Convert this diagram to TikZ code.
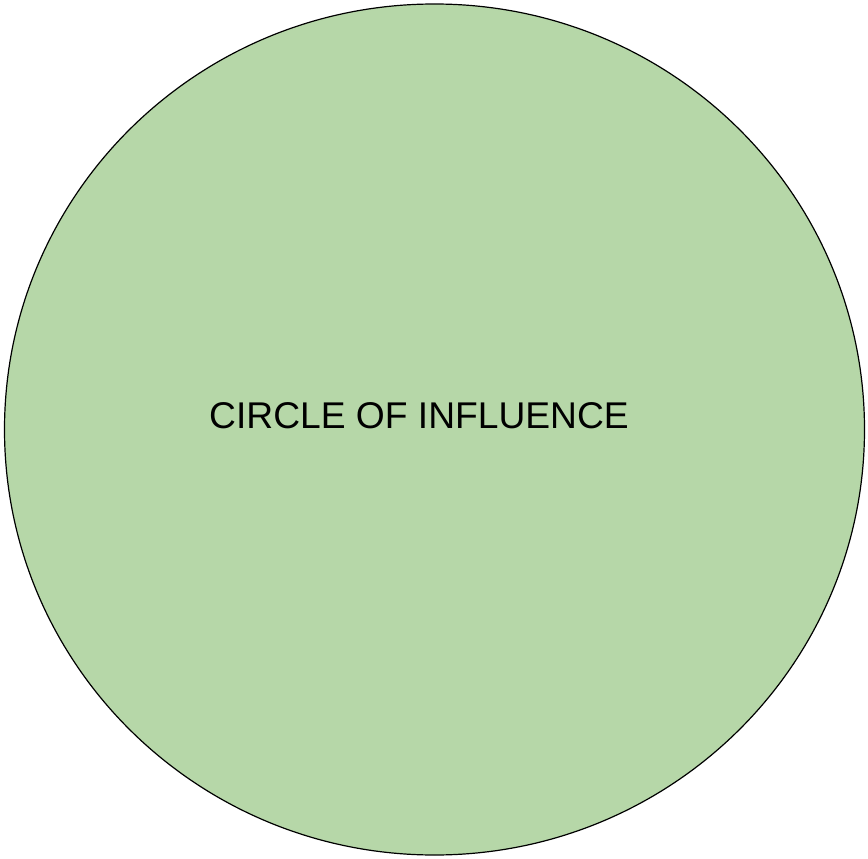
\documentclass[tikz,border=0pt]{standalone}
\usepackage{fontspec}
\setmainfont{Liberation Sans}

\definecolor{influencegreen}{HTML}{B6D7A8}

\begin{document}
\begin{tikzpicture}[x=1pt,y=-1pt]
    % Marco
    \useasboundingbox (0,0) rectangle (868,859);

    % Circulo
    \draw[fill=influencegreen, line width=1.2pt] (434.5,429.5) ellipse (430 and 425.5);

    % Texto
    \node[anchor=base, inner sep=0pt, font=\fontsize{37.2}{41}\selectfont] (influence) at (419,428) {CIRCLE OF INFLUENCE};
\end{tikzpicture}
\end{document}
